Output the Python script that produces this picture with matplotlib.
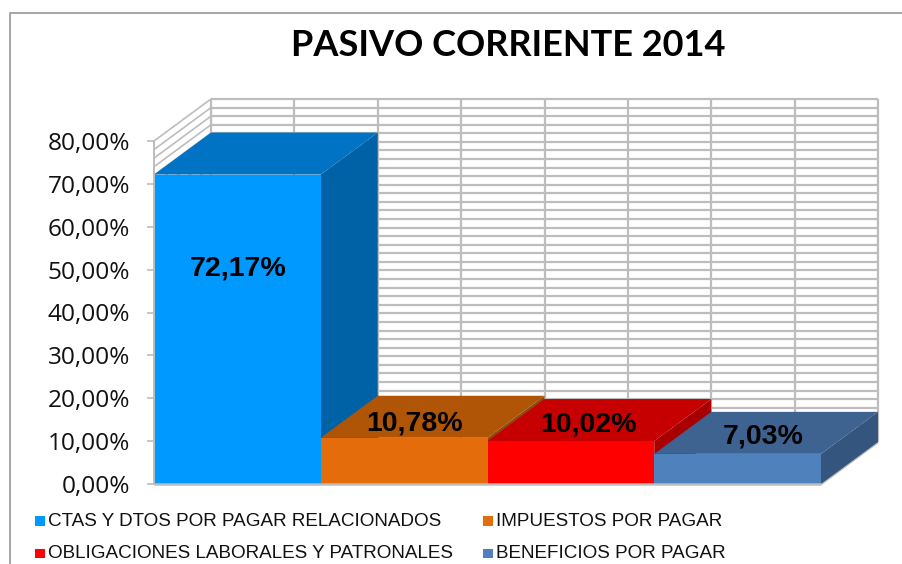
import matplotlib
matplotlib.use('Agg')
import matplotlib.pyplot as plt
from matplotlib.patches import Polygon, Rectangle

categorias = ['CTAS Y DTOS POR PAGAR RELACIONADOS', 'IMPUESTOS POR PAGAR',
              'OBLIGACIONES LABORALES Y PATRONALES', 'BENEFICIOS POR PAGAR']
valores = [72.17, 10.78, 10.02, 7.03]
etiquetas = ['72,17%', '10,78%', '10,02%', '7,03%']
ticks = [0, 10, 20, 30, 40, 50, 60, 70, 80]
color_frente = ['#0099FF', '#E46C0A', '#FF0000', '#4F81BD']
color_arriba = ['#0073C4', '#B05506', '#C60000', '#3E6391']
color_lado = ['#0062A6', '#8F4A0C', '#A80000', '#34557E']

W, H = 902, 564
GRIS = '#BDBDBD'
# profundidad de la perspectiva, en unidades de datos
DX = 57 / (667 / 4)
DY = 42 / (343 / 80)

fig = plt.figure(figsize=(W / 100, H / 100), dpi=100, facecolor='white')

# marco del grafico (solo arriba e izquierda quedan dentro del recorte)
fig.add_artist(plt.Line2D([9.5 / W, 9.5 / W, 1], [0, 1 - 12.5 / H, 1 - 12.5 / H],
                          color='#A6A6A6', lw=1.4))

ax = fig.add_axes([154 / W, 1 - 484 / H, 667 / W, 343 / H])
ax.set_xlim(0, 4)
ax.set_ylim(0, 80)
ax.patch.set_visible(False)
for s in ['top', 'right', 'bottom']:
    ax.spines[s].set_visible(False)
ax.spines['left'].set_color(GRIS)
ax.spines['left'].set_linewidth(1.4)
ax.set_xticks([])
ax.set_yticks(ticks)
ax.set_yticklabels(['%d,00%%' % t for t in ticks], fontsize=17.6,
                   family=['Open Sans', 'DejaVu Sans'], color='#111111')
ax.tick_params(axis='y', color=GRIS, width=1.2, length=5, pad=12)


def linea(xs, ys, z=1, lw=1.4):
    ax.plot(xs, ys, color=GRIS, lw=lw, clip_on=False, zorder=z, solid_capstyle='butt')


# pared del fondo y pared izquierda, con lineas cada 2 %
for y in range(0, 81, 2):
    linea([DX, 4 + DX], [y + DY, y + DY], lw=1.6)
    linea([0, DX], [y, y + DY], lw=1.2)
for i in range(9):
    linea([DX + i * 0.5] * 2, [DY, 80 + DY], lw=1.6)
# suelo
linea([0, 4], [0, 0], z=6, lw=1.8)
linea([4, 4 + DX], [0, DY], lw=1.8)

# barras de izquierda a derecha
for i, v in enumerate(valores):
    z = 2 + i * 0.1
    ax.add_patch(Polygon([(i + 1, 0), (i + 1 + DX, DY), (i + 1 + DX, v + DY), (i + 1, v)],
                         fc=color_lado[i], ec='none', clip_on=False, zorder=z))
    ax.add_patch(Polygon([(i, v), (i + 1, v), (i + 1 + DX, v + DY), (i + DX, v + DY)],
                         fc=color_arriba[i], ec='none', clip_on=False, zorder=z))
    ax.bar(i + 0.5, v, width=1, color=color_frente[i], zorder=z, clip_on=False)

# etiquetas de datos
pos_x = [0.505, 1.56, 2.605, 3.655]
pos_y = [50.2, 14.2, 13.8, 11.0]
for x, y, t in zip(pos_x, pos_y, etiquetas):
    ax.text(x, y, t, ha='center', va='center', fontsize=20.5, fontweight='bold',
            family='Liberation Sans', color='black', zorder=5)

fig.text(508 / W, 1 - 46 / H, 'PASIVO CORRIENTE 2014', ha='center', va='center',
         fontsize=26, fontweight='bold', family='Lato', color='black')

# leyenda a mano para clavar las posiciones de la original
ley_x = [35, 483, 35, 483]
ley_y = [521, 521, 553.5, 553.5]
for x, y, t, c in zip(ley_x, ley_y, categorias, color_frente):
    fig.add_artist(Rectangle((x / W, 1 - (y + 4.5) / H), 9.5 / W, 9.5 / H,
                             transform=fig.transFigure, fc=c, ec='none'))
    fig.text((x + 13) / W, 1 - y / H, t, ha='left', va='center', fontsize=13.6,
             family='Liberation Sans', color='#111111')

fig.savefig('out.png', dpi=100)
